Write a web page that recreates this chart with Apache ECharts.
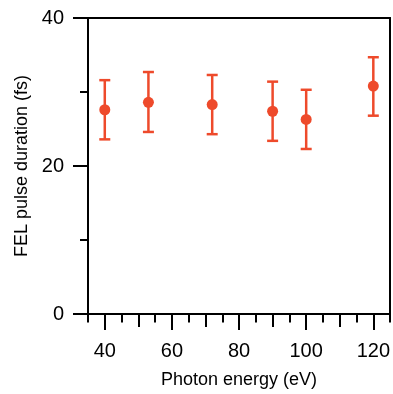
<!DOCTYPE html>
<html>
<head>
<meta charset="utf-8">
<script src="https://cdn.jsdelivr.net/npm/echarts@6/dist/echarts.min.js"></script>
<style>
html,body{margin:0;padding:0;background:#fff;}
#c{width:393px;height:394px;}
</style>
</head>
<body>
<div id="c"></div>
<script>
// Data
const photonEnergy = [40, 53, 72, 90, 100, 120];
const duration     = [27.6, 28.6, 28.3, 27.4, 26.3, 30.8];
const errLow       = [23.6, 24.6, 24.3, 23.4, 22.3, 26.8];
const errHigh      = [31.6, 32.7, 32.3, 31.4, 30.3, 34.7];
const xMajorTicks  = [40, 60, 80, 100, 120];
const xMidTicks    = [50, 70, 90, 110];
const xMinorTicks  = [35, 45, 55, 65, 75, 85, 95, 105, 115, 125];

const RED = '#ee4a2b';
const FONT = 'Liberation Sans, Arial, Helvetica, sans-serif';

const points = photonEnergy.map((x, i) => [x, duration[i]]);
const bars = photonEnergy.map((x, i) => [x, errLow[i], errHigh[i]]);

const chart = echarts.init(document.getElementById('c'), null, {renderer: 'canvas'});

const lineStyle = {color: '#000', width: 2};
const baseX = {type: 'value', min: 35, max: 125, gridIndex: 0, splitLine: {show: false}};

chart.setOption({
  animation: false,
  backgroundColor: '#fff',
  grid: {left: 88, right: 2, top: 18, bottom: 74, containLabel: false},
  xAxis: [
    Object.assign({}, baseX, {
      position: 'bottom',
      axisLine: {show: true, onZero: false, lineStyle},
      axisTick: {show: true, length: 16, lineStyle, customValues: xMajorTicks},
      axisLabel: {show: true, customValues: xMajorTicks, fontSize: 20, color: '#000', fontFamily: FONT, margin: 27},
      name: 'Photon energy (eV)',
      nameLocation: 'middle',
      nameGap: 57,
      nameTextStyle: {fontSize: 18, color: '#000', fontFamily: FONT}
    }),
    Object.assign({}, baseX, {
      position: 'bottom',
      axisLine: {show: false, onZero: false},
      axisTick: {show: true, length: 13, lineStyle, customValues: xMidTicks},
      axisLabel: {show: false}
    }),
    Object.assign({}, baseX, {
      position: 'bottom',
      axisLine: {show: false, onZero: false},
      axisTick: {show: true, length: 8.5, lineStyle, customValues: xMinorTicks},
      axisLabel: {show: false}
    }),
    Object.assign({}, baseX, {
      position: 'top',
      axisLine: {show: true, onZero: false, lineStyle},
      axisTick: {show: false},
      axisLabel: {show: false}
    })
  ],
  yAxis: [
    {
      type: 'value', min: 0, max: 40, interval: 20, position: 'left',
      splitLine: {show: false},
      axisLine: {show: true, onZero: false, lineStyle},
      axisTick: {show: true, length: 15, lineStyle},
      minorTick: {show: true, splitNumber: 2, length: 8, lineStyle},
      axisLabel: {fontSize: 20, color: '#000', fontFamily: FONT, margin: 24},
      name: 'FEL pulse duration (fs)',
      nameLocation: 'middle',
      nameGap: 56,
      nameTextStyle: {fontSize: 18, color: '#000', fontFamily: FONT}
    },
    {
      type: 'value', min: 0, max: 40, position: 'right',
      splitLine: {show: false},
      axisLine: {show: true, onZero: false, lineStyle},
      axisTick: {show: false},
      axisLabel: {show: false}
    }
  ],
  series: [
    {
      type: 'custom',
      xAxisIndex: 0, yAxisIndex: 0,
      data: bars,
      z: 2,
      renderItem: function (params, api) {
        const x = api.value(0);
        const lo = api.coord([x, api.value(1)]);
        const hi = api.coord([x, api.value(2)]);
        const hw = 5.5;
        const st = {stroke: RED, lineWidth: 2.5};
        return {
          type: 'group',
          children: [
            {type: 'line', shape: {x1: lo[0], y1: lo[1], x2: hi[0], y2: hi[1]}, style: st},
            {type: 'line', shape: {x1: lo[0] - hw, y1: lo[1], x2: lo[0] + hw, y2: lo[1]}, style: st},
            {type: 'line', shape: {x1: hi[0] - hw, y1: hi[1], x2: hi[0] + hw, y2: hi[1]}, style: st}
          ]
        };
      }
    },
    {
      type: 'scatter',
      xAxisIndex: 0, yAxisIndex: 0,
      data: points,
      symbol: 'circle',
      symbolSize: 11,
      itemStyle: {color: RED, opacity: 1},
      z: 3
    }
  ]
});
</script>
</body>
</html>
